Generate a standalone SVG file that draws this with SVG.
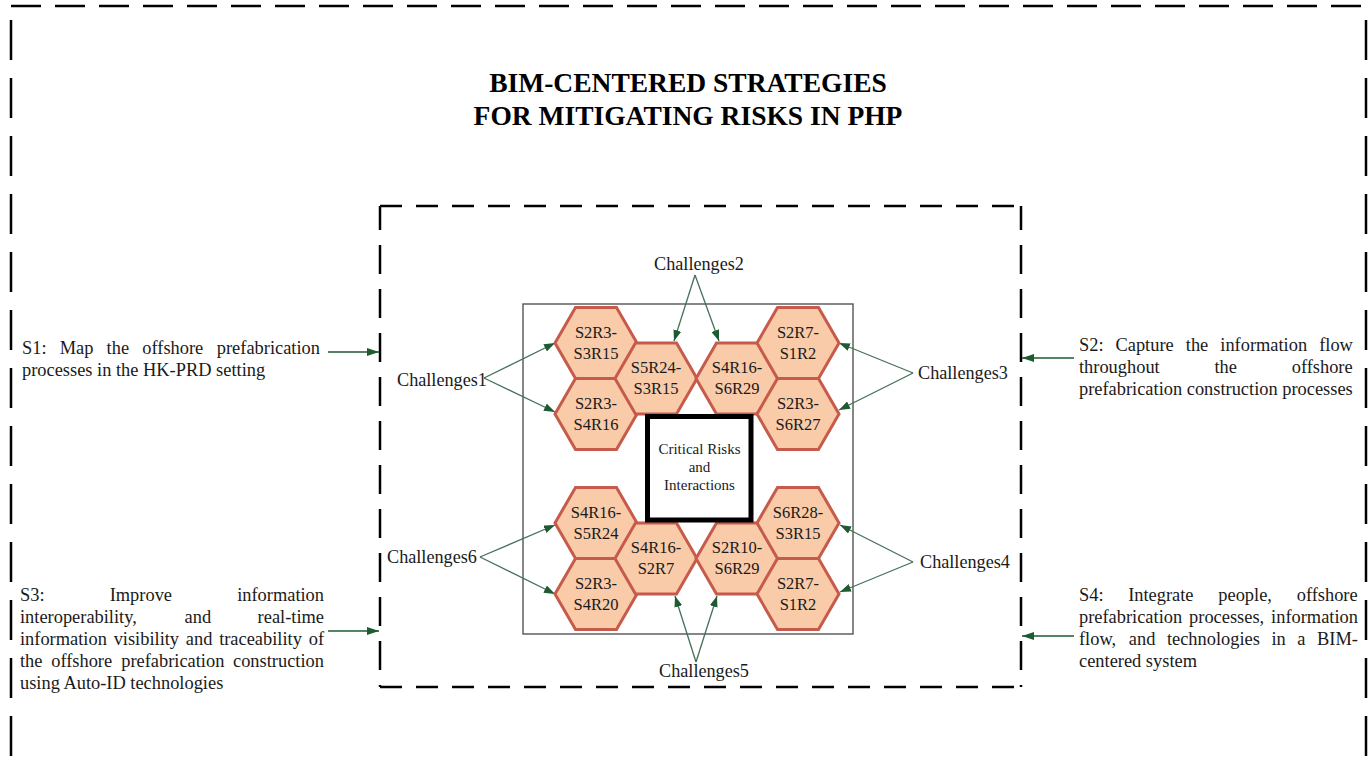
<svg xmlns="http://www.w3.org/2000/svg" width="1368" height="767" viewBox="0 0 1368 767">
<style>
  text { font-family: "Liberation Serif", "Times New Roman", serif; fill: #1a1a1a; }
  .title { font-size: 27.5px; font-weight: bold; text-anchor: middle; fill: #000; }
  .side { font-size: 18.4px; }
  .chal { font-size: 18.2px; }
  .hexlbl { font-size: 16.5px; text-anchor: middle; }
  .ctr { font-size: 15px; text-anchor: middle; }
  .hex { fill: #F9CBA8; stroke: #C65B4B; stroke-width: 3; stroke-linejoin: miter; }
  .conn { stroke: #46705A; stroke-width: 1.3; fill: none; marker-end: url(#ah); }
  .sarr { stroke: #1F5A32; stroke-width: 1.4; fill: none; marker-end: url(#ah2); }
  .odash { stroke: #000; stroke-width: 2.5; fill: none; }
</style>
<defs>
  <marker id="ah" viewBox="0 0 11 8" refX="11" refY="4" markerWidth="11" markerHeight="8" markerUnits="userSpaceOnUse" orient="auto">
    <path d="M0,0 L11,4 L0,8 z" fill="#1E5A32"/>
  </marker>
  <marker id="ah2" viewBox="0 0 12 8" refX="12" refY="4" markerWidth="12" markerHeight="8" markerUnits="userSpaceOnUse" orient="auto">
    <path d="M0,0 L12,4 L0,8 z" fill="#1E5A32"/>
  </marker>
  <polygon id="hexshape" class="hex" points="-41,0 -20.5,-35.5 20.5,-35.5 41,0 20.5,35.5 -20.5,35.5"/>
</defs>
<rect width="1368" height="767" fill="#fff"/>

<g id="outer-frame">
  <line class="odash" x1="11" y1="6" x2="1366" y2="6" stroke-dasharray="30 14"/>
  <line class="odash" x1="11" y1="20" x2="11" y2="767" stroke-dasharray="40 18"/>
  <line class="odash" x1="1366" y1="20" x2="1366" y2="767" stroke-dasharray="40 18"/>
</g>

<g id="title">
  <text class="title" x="688" y="92">BIM-CENTERED STRATEGIES</text>
  <text class="title" x="688" y="125">FOR MITIGATING RISKS IN PHP</text>
</g>

<g id="inner-frame">
  <line class="odash" stroke-width="2.7" x1="380" y1="206" x2="1022" y2="206" stroke-dasharray="22 14"/>
  <line class="odash" stroke-width="2.7" x1="380" y1="687" x2="1022" y2="687" stroke-dasharray="22 14"/>
  <line class="odash" stroke-width="2.7" x1="380" y1="206" x2="380" y2="687" stroke-dasharray="29 15" stroke-dashoffset="5"/>
  <line class="odash" stroke-width="2.7" x1="1021" y1="206" x2="1021" y2="687" stroke-dasharray="29 15" stroke-dashoffset="5"/>
</g>

<g id="risk-box">
  <rect x="523" y="304" width="330" height="330" fill="none" stroke="#555" stroke-width="1.4"/>
</g>

<g id="connectors">
  <path class="conn" d="M484,378 L555,343"/>
  <path class="conn" d="M484,378 L555,412"/>
  <path class="conn" d="M695,275 L674,341"/>
  <path class="conn" d="M695,275 L719,341"/>
  <path class="conn" d="M913,373 L839,343"/>
  <path class="conn" d="M913,373 L839,410"/>
  <path class="conn" d="M913,562 L840,525"/>
  <path class="conn" d="M913,562 L840,592"/>
  <path class="conn" d="M696,662 L675,596"/>
  <path class="conn" d="M696,662 L717,596"/>
  <path class="conn" d="M480,557 L555,525"/>
  <path class="conn" d="M480,557 L555,594"/>
  <path class="sarr" d="M328,352 L379,352"/>
  <path class="sarr" d="M1074,358 L1022,358"/>
  <path class="sarr" d="M328,631 L379,631"/>
  <path class="sarr" d="M1074,636 L1022,636"/>
</g>

<g id="hex-s2r3-s3r15" transform="translate(596,343)">
  <use href="#hexshape"/>
  <text class="hexlbl" x="0" y="-5.5">S2R3-</text><text class="hexlbl" x="0" y="15.5">S3R15</text>
</g>
<g id="hex-s2r3-s4r16" transform="translate(596,414)">
  <use href="#hexshape"/>
  <text class="hexlbl" x="0" y="-5.5">S2R3-</text><text class="hexlbl" x="0" y="15.5">S4R16</text>
</g>
<g id="hex-s5r24-s3r15" transform="translate(656,378.5)">
  <use href="#hexshape"/>
  <text class="hexlbl" x="0" y="-5.5">S5R24-</text><text class="hexlbl" x="0" y="15.5">S3R15</text>
</g>
<g id="hex-s4r16-s6r29" transform="translate(737,378.5)">
  <use href="#hexshape"/>
  <text class="hexlbl" x="0" y="-5.5">S4R16-</text><text class="hexlbl" x="0" y="15.5">S6R29</text>
</g>
<g id="hex-s2r7-s1r2-top" transform="translate(798,343)">
  <use href="#hexshape"/>
  <text class="hexlbl" x="0" y="-5.5">S2R7-</text><text class="hexlbl" x="0" y="15.5">S1R2</text>
</g>
<g id="hex-s2r3-s6r27" transform="translate(798,414)">
  <use href="#hexshape"/>
  <text class="hexlbl" x="0" y="-5.5">S2R3-</text><text class="hexlbl" x="0" y="15.5">S6R27</text>
</g>
<g id="hex-s4r16-s5r24" transform="translate(596,523)">
  <use href="#hexshape"/>
  <text class="hexlbl" x="0" y="-5.5">S4R16-</text><text class="hexlbl" x="0" y="15.5">S5R24</text>
</g>
<g id="hex-s2r3-s4r20" transform="translate(596,594)">
  <use href="#hexshape"/>
  <text class="hexlbl" x="0" y="-5.5">S2R3-</text><text class="hexlbl" x="0" y="15.5">S4R20</text>
</g>
<g id="hex-s4r16-s2r7" transform="translate(656,558.5)">
  <use href="#hexshape"/>
  <text class="hexlbl" x="0" y="-5.5">S4R16-</text><text class="hexlbl" x="0" y="15.5">S2R7</text>
</g>
<g id="hex-s2r10-s6r29" transform="translate(737,558.5)">
  <use href="#hexshape"/>
  <text class="hexlbl" x="0" y="-5.5">S2R10-</text><text class="hexlbl" x="0" y="15.5">S6R29</text>
</g>
<g id="hex-s6r28-s3r15" transform="translate(798,523)">
  <use href="#hexshape"/>
  <text class="hexlbl" x="0" y="-5.5">S6R28-</text><text class="hexlbl" x="0" y="15.5">S3R15</text>
</g>
<g id="hex-s2r7-s1r2-bottom" transform="translate(798,594)">
  <use href="#hexshape"/>
  <text class="hexlbl" x="0" y="-5.5">S2R7-</text><text class="hexlbl" x="0" y="15.5">S1R2</text>
</g>

<g id="critical-risks">
  <rect x="647.5" y="416.5" width="103.5" height="103.5" fill="#fff" stroke="#000" stroke-width="5"/>
  <text class="ctr" x="699.5" y="454">Critical Risks</text>
  <text class="ctr" x="699.5" y="472">and</text>
  <text class="ctr" x="699.5" y="490">Interactions</text>
</g>

<g id="challenges1"><text class="chal" x="397" y="386">Challenges1</text></g>
<g id="challenges2"><text class="chal" x="699" y="270" text-anchor="middle">Challenges2</text></g>
<g id="challenges3"><text class="chal" x="918" y="379">Challenges3</text></g>
<g id="challenges4"><text class="chal" x="920" y="568">Challenges4</text></g>
<g id="challenges5"><text class="chal" x="704" y="677" text-anchor="middle">Challenges5</text></g>
<g id="challenges6"><text class="chal" x="387" y="563">Challenges6</text></g>

<g id="s1">
  <text class="side" y="354"><tspan x="22">S1:</tspan><tspan x="59.7">Map</tspan><tspan x="106.6">the</tspan><tspan x="142.3">offshore</tspan><tspan x="216.8">prefabrication</tspan></text>
  <text class="side" x="22" y="376">processes in the HK-PRD setting</text>
</g>

<g id="s2">
  <text class="side" y="351"><tspan x="1079">S2:</tspan><tspan x="1115.5">Capture</tspan><tspan x="1185.8">the</tspan><tspan x="1220.3">information</tspan><tspan x="1319.2">flow</tspan></text>
  <text class="side" y="373"><tspan x="1079">throughout</tspan><tspan x="1214.5">the</tspan><tspan x="1291.7">offshore</tspan></text>
  <text class="side" x="1079" y="395">prefabrication construction processes</text>
</g>

<g id="s3">
  <text class="side" y="601"><tspan x="20">S3:</tspan><tspan x="109.7">Improve</tspan><tspan x="237.2">information</tspan></text>
  <text class="side" y="623"><tspan x="20">interoperability,</tspan><tspan x="184.6">and</tspan><tspan x="257.6">real-time</tspan></text>
  <text class="side" y="645"><tspan x="20">information</tspan><tspan x="113.65">visibility</tspan><tspan x="185.8">and</tspan><tspan x="219.15">traceability</tspan><tspan x="308.7">of</tspan></text>
  <text class="side" y="667"><tspan x="20">the</tspan><tspan x="51.2">offshore</tspan><tspan x="121.2">prefabrication</tspan><tspan x="233">construction</tspan></text>
  <text class="side" x="20" y="689">using Auto-ID technologies</text>
</g>

<g id="s4">
  <text class="side" y="601"><tspan x="1079">S4:</tspan><tspan x="1128.2">Integrate</tspan><tspan x="1218.3">people,</tspan><tspan x="1296.7">offshore</tspan></text>
  <text class="side" y="623"><tspan x="1079">prefabrication</tspan><tspan x="1189.1">processes,</tspan><tspan x="1271.1">information</tspan></text>
  <text class="side" y="645"><tspan x="1079">flow,</tspan><tspan x="1128.8">and</tspan><tspan x="1166.9">technologies</tspan><tspan x="1271.5">in</tspan><tspan x="1297.3">a</tspan><tspan x="1317.1">BIM-</tspan></text>
  <text class="side" x="1079" y="667">centered system</text>
</g>
</svg>
